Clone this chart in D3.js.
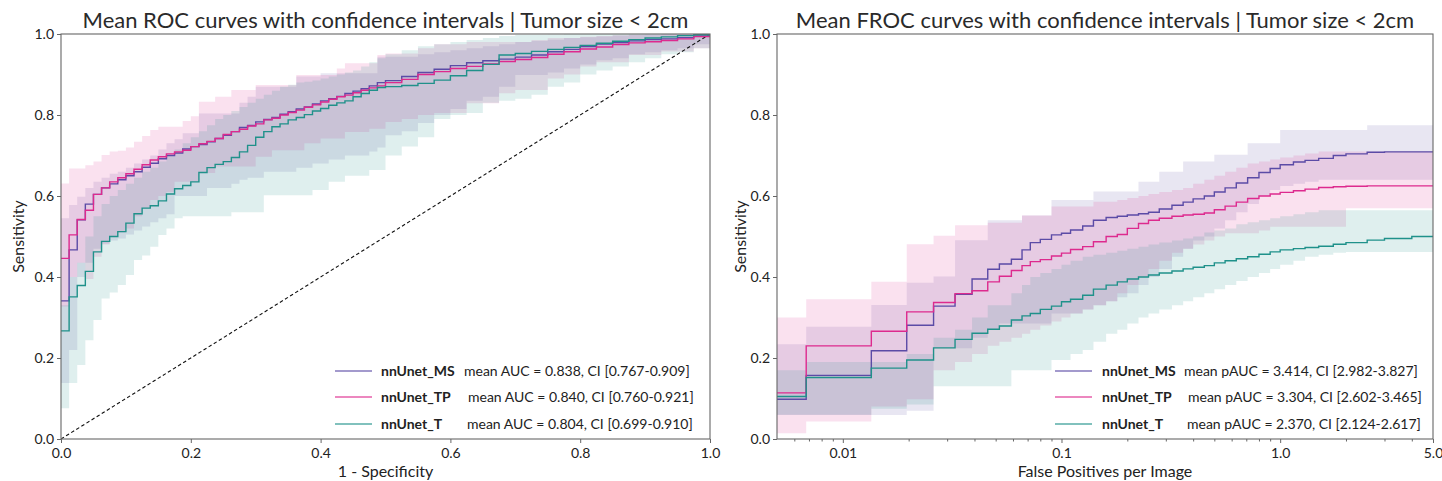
<!DOCTYPE html>
<html>
<head>
<meta charset="utf-8">
<script src="https://cdn.jsdelivr.net/npm/d3@7"></script>
<style>
  body { margin: 0; background: #fff; }
  svg text { font-family: "Lato", "Open Sans", sans-serif; fill: #222; }
  .domain { stroke: #666; }
  .tick line { stroke: #666; }
</style>
</head>
<body>
<svg id="chart"></svg>
<script>
// ---- data ----
const models = ["nnUnet_MS", "nnUnet_TP", "nnUnet_T"];
const colors = ["#5b4ba6", "#dd2a8e", "#1f918a"];
const rocLegend = ["mean AUC = 0.838, CI [0.767-0.909]", "mean AUC = 0.840, CI [0.760-0.921]", "mean AUC = 0.804, CI [0.699-0.910]"];
const frocLegend = ["mean pAUC = 3.414, CI [2.982-3.827]", "mean pAUC = 3.304, CI [2.602-3.465]", "mean pAUC = 2.370, CI [2.124-2.617]"];

const rocTicks = [0, 0.2, 0.4, 0.6, 0.8, 1.0];
const frocTicks = [0.01, 0.1, 1.0, 5.0];
const frocTickLabels = ["0.01", "0.1", "1.0", "5.0"];
const frocMinorTicks = [0.006, 0.007, 0.008, 0.009, 0.02, 0.03, 0.04, 0.05, 0.06, 0.07, 0.08, 0.09, 0.2, 0.3, 0.4, 0.5, 0.6, 0.7, 0.8, 0.9, 2, 3, 4];
const diagonal = [0, 1];

const rocFpr = [0, .0125, .025, .0375, .05, .0625, .075, .0875, .1, .1125, .125, .1375, .15, .1625, .175, .1875, .2, .2125, .225, .2375,
  .25, .2625, .275, .2875, .3, .3125, .325, .3375, .35, .3625, .375, .3875, .4, .4125, .425, .4375, .45, .4625, .475, .4875,
  .5, .525, .55, .575, .6, .625, .65, .675, .7, .725, .75, .775, .8, .825, .85, .875, .9, .925, .95, .975, 1];

const rocMsMean = [.341, .467, .541, .58, .604, .62, .63, .64, .65, .66, .671, .681, .692, .70, .706, .716, .722, .727, .734, .742,
  .75, .759, .769, .774, .783, .789, .794, .802, .808, .815, .82, .827, .835, .84, .846, .853, .859, .865, .872, .88,
  .885, .895, .905, .913, .922, .929, .934, .938, .943, .948, .956, .962, .969, .975, .979, .983, .986, .988, .991, .995, 1];
const rocMsLo = [.138, .22, .40, .435, .47, .483, .49, .495, .505, .515, .525, .535, .545, .555, .60, .60, .60, .60, .62, .62,
  .62, .63, .64, .645, .645, .66, .66, .66, .66, .67, .67, .68, .68, .69, .69, .70, .70, .70, .71, .72,
  .75, .76, .78, .80, .815, .835, .845, .87, .899, .899, .905, .915, .925, .935, .94, .95, .955, .96, .965, .975, 1];
const rocMsHi = [.545, .578, .598, .62, .635, .645, .655, .66, .67, .68, .69, .70, .715, .73, .74, .755, .755, .804, .804, .804,
  .804, .804, .83, .845, .87, .87, .87, .87, .87, .895, .895, .895, .903, .903, .903, .903, .903, .903, .903, .944,
  .944, .944, .95, .955, .96, .965, .97, .975, .98, .983, .986, .99, .992, .994, .996, .998, .999, 1, 1, 1, 1];

const rocTpMean = [.446, .504, .542, .565, .604, .62, .635, .645, .655, .666, .677, .689, .697, .704, .709, .713, .722, .729, .735, .742,
  .752, .759, .765, .773, .778, .788, .792, .80, .806, .812, .819, .825, .832, .839, .845, .849, .855, .861, .867, .872,
  .88, .888, .90, .907, .915, .92, .926, .932, .937, .942, .95, .956, .963, .968, .974, .978, .981, .984, .988, .994, 1];
const rocTpLo = [.327, .40, .435, .395, .45, .48, .50, .51, .52, .55, .57, .59, .60, .61, .635, .635, .635, .657, .657, .673,
  .673, .673, .673, .673, .697, .697, .713, .713, .713, .713, .73, .73, .742, .742, .742, .758, .758, .758, .766, .766,
  .783, .79, .80, .805, .805, .829, .829, .854, .862, .862, .89, .90, .92, .93, .93, .948, .948, .957, .957, .965, 1];
const rocTpHi = [.631, .668, .668, .676, .685, .701, .71, .712, .72, .734, .748, .763, .771, .771, .771, .785, .797, .833, .833, .845,
  .845, .862, .862, .862, .874, .874, .874, .874, .874, .899, .899, .899, .899, .899, .915, .928, .928, .928, .928, .948,
  .952, .952, .965, .975, .975, .98, .98, .98, .98, .985, .99, .99, .993, .995, .997, .998, .999, 1, 1, 1, 1];

const rocTMean = [.267, .351, .379, .414, .462, .488, .50, .512, .533, .556, .57, .576, .588, .605, .618, .626, .635, .658, .67, .678,
  .685, .695, .709, .725, .745, .759, .771, .778, .788, .794, .801, .81, .816, .824, .83, .835, .845, .853, .861, .868,
  .87, .873, .878, .886, .897, .91, .925, .948, .952, .957, .962, .967, .972, .977, .982, .986, .99, .993, .996, .998, 1];
const rocTLo = [.076, .138, .183, .244, .294, .347, .362, .38, .405, .442, .453, .475, .504, .52, .545, .55, .55, .55, .55, .55,
  .55, .56, .56, .56, .56, .602, .602, .602, .602, .602, .602, .615, .615, .635, .635, .65, .65, .65, .664, .664,
  .70, .722, .745, .79, .80, .805, .83, .835, .84, .85, .87, .88, .90, .91, .92, .93, .94, .95, .955, .965, 1];
const rocTHi = [.33, .40, .435, .50, .55, .58, .60, .615, .63, .645, .66, .67, .685, .70, .715, .73, .745, .76, .775, .79,
  .80, .81, .82, .83, .84, .85, .86, .87, .875, .88, .882, .885, .89, .895, .90, .905, .91, .92, .93, .94,
  .95, .96, .97, .975, .98, .985, .99, .995, .998, .998, .999, 1, 1, 1, 1, 1, 1, 1, 1, 1, 1];

const frocFp = [.005, .0068, .0135, .0196, .026, .0326, .039, .046, .052, .059, .066, .072, .08, .09, .1, .11, .125, .14, .16, .18,
  .2, .225, .25, .28, .32, .36, .4, .45, .5, .56, .63, .71, .8, .9, 1.0, 1.15, 1.3, 1.5, 1.75, 2.0, 2.5, 3.0, 4.0, 5.0];

const frocMsMean = [.098, .157, .218, .281, .328, .357, .395, .419, .432, .444, .467, .485, .493, .504, .508, .516, .526, .54, .547, .55,
  .553, .556, .56, .568, .577, .585, .593, .60, .61, .62, .632, .645, .658, .668, .677, .684, .688, .693, .70, .704, .708, .709, .709, .709];
const frocMsLo = [.059, .059, .059, .07, .224, .224, .25, .27, .285, .285, .285, .285, .285, .31, .31, .31, .32, .33, .34, .35,
  .36, .38, .40, .42, .45, .47, .49, .50, .52, .54, .56, .58, .60, .615, .625, .63, .635, .64, .64, .64, .64, .64, .64, .64];
const frocMsHi = [.234, .277, .331, .386, .401, .491, .491, .54, .54, .54, .552, .552, .552, .59, .59, .59, .59, .611, .611, .611,
  .611, .635, .635, .66, .66, .685, .685, .685, .702, .702, .702, .73, .73, .73, .763, .763, .763, .763, .763, .763, .775, .775, .775, .775];

const frocTpMean = [.114, .23, .266, .314, .337, .359, .366, .388, .402, .416, .428, .438, .443, .452, .459, .468, .475, .487, .50, .505,
  .52, .532, .54, .545, .55, .553, .555, .558, .566, .575, .585, .594, .60, .605, .609, .613, .617, .621, .623, .624, .625, .625, .625, .625];
const frocTpLo = [.014, .043, .08, .098, .17, .19, .21, .23, .24, .25, .26, .27, .28, .29, .30, .31, .32, .33, .34, .36,
  .38, .40, .42, .44, .46, .47, .48, .49, .50, .508, .508, .508, .515, .524, .524, .524, .524, .524, .524, .57, .57, .57, .57, .57];
const frocTpHi = [.30, .345, .388, .481, .502, .528, .528, .534, .534, .534, .552, .552, .552, .574, .574, .574, .574, .586, .586, .59,
  .595, .60, .605, .61, .615, .62, .63, .64, .65, .66, .67, .68, .685, .69, .695, .70, .705, .71, .71, .71, .71, .71, .71, .71];

const frocTMean = [.105, .152, .175, .195, .225, .246, .261, .271, .279, .294, .304, .31, .32, .328, .339, .345, .355, .37, .38, .388,
  .395, .40, .405, .41, .415, .42, .424, .428, .435, .44, .445, .45, .456, .462, .467, .47, .473, .476, .481, .485, .491, .495, .50, .501];
const frocTLo = [.06, .06, .075, .085, .13, .13, .13, .13, .13, .17, .17, .17, .17, .195, .195, .21, .22, .24, .26, .27,
  .285, .30, .31, .32, .33, .34, .35, .36, .37, .38, .39, .40, .41, .42, .43, .44, .45, .455, .46, .462, .462, .462, .462, .462];
const frocTHi = [.17, .19, .19, .21, .25, .27, .30, .33, .33, .36, .38, .40, .41, .42, .43, .44, .45, .455, .46, .465,
  .47, .475, .48, .485, .49, .495, .50, .51, .515, .52, .53, .535, .54, .545, .55, .555, .56, .565, .565, .565, .565, .565, .565, .565];

// ---- layout ----
const width = 1442;
const height = 481;
const plotTop = 34;
const plotBottom = 439;

const svg = d3.select("#chart").attr("width", width).attr("height", height);

const panels = [
  {
    id: "roc", x0: 61, x1: 710, yLabelX: 18,
    title: "Mean ROC curves with confidence intervals | Tumor size < 2cm",
    xLabel: "1 - Specificity",
    xs: rocFpr,
    series: [
      { mean: rocMsMean, lo: rocMsLo, hi: rocMsHi },
      { mean: rocTpMean, lo: rocTpLo, hi: rocTpHi },
      { mean: rocTMean, lo: rocTLo, hi: rocTHi },
    ],
    legend: rocLegend,
    legendX: 335, nameX: 381, textX: [464, 468, 467],
  },
  {
    id: "froc", x0: 777, x1: 1433, yLabelX: 740,
    title: "Mean FROC curves with confidence intervals | Tumor size < 2cm",
    xLabel: "False Positives per Image",
    xs: frocFp,
    series: [
      { mean: frocMsMean, lo: frocMsLo, hi: frocMsHi },
      { mean: frocTpMean, lo: frocTpLo, hi: frocTpHi },
      { mean: frocTMean, lo: frocTLo, hi: frocTHi },
    ],
    legend: frocLegend,
    legendX: 1055, nameX: 1102, textX: [1184, 1188, 1187],
  },
];

const legendRows = [371, 397, 424];

const drawPanel = (p) => {
  const xScale = p.id === "roc"
    ? d3.scaleLinear().domain([0, 1]).range([p.x0, p.x1])
    : d3.scaleLog().domain([0.005, 5]).range([p.x0, p.x1]);
  const yScale = d3.scaleLinear().domain([0, 1]).range([plotBottom, plotTop]);

  const g = svg.append("g").attr("id", p.id);

  g.append("clipPath").attr("id", "clip-" + p.id)
    .append("rect")
    .attr("x", p.x0).attr("y", plotTop)
    .attr("width", p.x1 - p.x0).attr("height", plotBottom - plotTop);

  const plot = g.append("g").attr("clip-path", `url(#clip-${p.id})`);

  const area = d3.area()
    .x((d) => xScale(d.x))
    .y0((d) => yScale(d.lo))
    .y1((d) => yScale(d.hi))
    .curve(d3.curveStepAfter);

  const line = d3.line()
    .x((d) => xScale(d.x))
    .y((d) => yScale(d.y))
    .curve(d3.curveStepAfter);

  // bands first, then lines
  p.series.forEach((s, i) => {
    const pts = p.xs.map((x, k) => ({ x: x, lo: s.lo[k], hi: s.hi[k] }));
    plot.append("path")
      .datum(pts)
      .attr("d", area)
      .attr("fill", colors[i])
      .attr("fill-opacity", 0.14);
  });

  if (p.id === "roc") {
    plot.append("path")
      .datum(diagonal)
      .attr("d", d3.line().x((d) => xScale(d)).y((d) => yScale(d)))
      .attr("fill", "none")
      .attr("stroke", "#111")
      .attr("stroke-width", 1.1)
      .attr("stroke-dasharray", "3.5,2.5");
  }

  p.series.forEach((s, i) => {
    const pts = p.xs.map((x, k) => ({ x: x, y: s.mean[k] }));
    plot.append("path")
      .datum(pts)
      .attr("d", line)
      .attr("fill", "none")
      .attr("stroke", colors[i])
      .attr("stroke-width", 1.4);
  });

  // frame
  g.append("rect")
    .attr("x", p.x0).attr("y", plotTop)
    .attr("width", p.x1 - p.x0).attr("height", plotBottom - plotTop)
    .attr("fill", "none")
    .attr("stroke", "#666")
    .attr("stroke-width", 1.1);

  // axes
  let xAxis;
  if (p.id === "roc") {
    xAxis = d3.axisBottom(xScale).tickValues(rocTicks).tickFormat(d3.format(".1f")).tickSize(4);
  } else {
    xAxis = d3.axisBottom(xScale).tickValues(frocTicks)
      .tickFormat((d, i) => frocTickLabels[i]).tickSize(4);
    g.append("g")
      .attr("transform", `translate(0, ${plotBottom})`)
      .call(d3.axisBottom(xScale).tickValues(frocMinorTicks).tickFormat("").tickSize(2.5))
      .call((a) => a.select(".domain").remove());
  }
  const yAxis = d3.axisLeft(yScale).tickValues(rocTicks).tickFormat(d3.format(".1f")).tickSize(4);

  g.append("g")
    .attr("transform", `translate(0, ${plotBottom})`)
    .call(xAxis)
    .call((a) => a.select(".domain").remove())
    .selectAll("text")
    .attr("dy", "0.88em")
    .style("font-size", "14px");

  g.append("g")
    .attr("transform", `translate(${p.x0}, 0)`)
    .call(yAxis)
    .call((a) => a.select(".domain").remove())
    .selectAll("text")
    .style("font-size", "14px");

  // title and labels
  svg.append("text")
    .attr("x", (p.x0 + p.x1) / 2)
    .attr("y", 28)
    .attr("text-anchor", "middle")
    .style("font-size", "22px")
    .style("fill", "#2a2a2a")
    .text(p.title);

  svg.append("text")
    .attr("x", (p.x0 + p.x1) / 2)
    .attr("y", 477)
    .attr("text-anchor", "middle")
    .style("font-size", "16px")
    .text(p.xLabel);

  svg.append("text")
    .attr("transform", `translate(${p.yLabelX}, ${(plotTop + plotBottom) / 2}) rotate(-90)`)
    .attr("text-anchor", "middle")
    .attr("dy", "0.35em")
    .style("font-size", "16px")
    .text("Sensitivity");

  // legend
  models.forEach((m, i) => {
    const y = legendRows[i];
    g.append("line")
      .attr("x1", p.legendX).attr("x2", p.legendX + 37)
      .attr("y1", y).attr("y2", y)
      .attr("stroke", colors[i])
      .attr("stroke-opacity", 0.75)
      .attr("stroke-width", 1.5);
    g.append("text")
      .attr("x", p.nameX).attr("y", y + 5)
      .style("font-size", "14px")
      .style("font-weight", "bold")
      .text(m);
    g.append("text")
      .attr("x", p.textX[i]).attr("y", y + 5)
      .style("font-size", "14px")
      .text(p.legend[i]);
  });
};

panels.forEach(drawPanel);
</script>
</body>
</html>
